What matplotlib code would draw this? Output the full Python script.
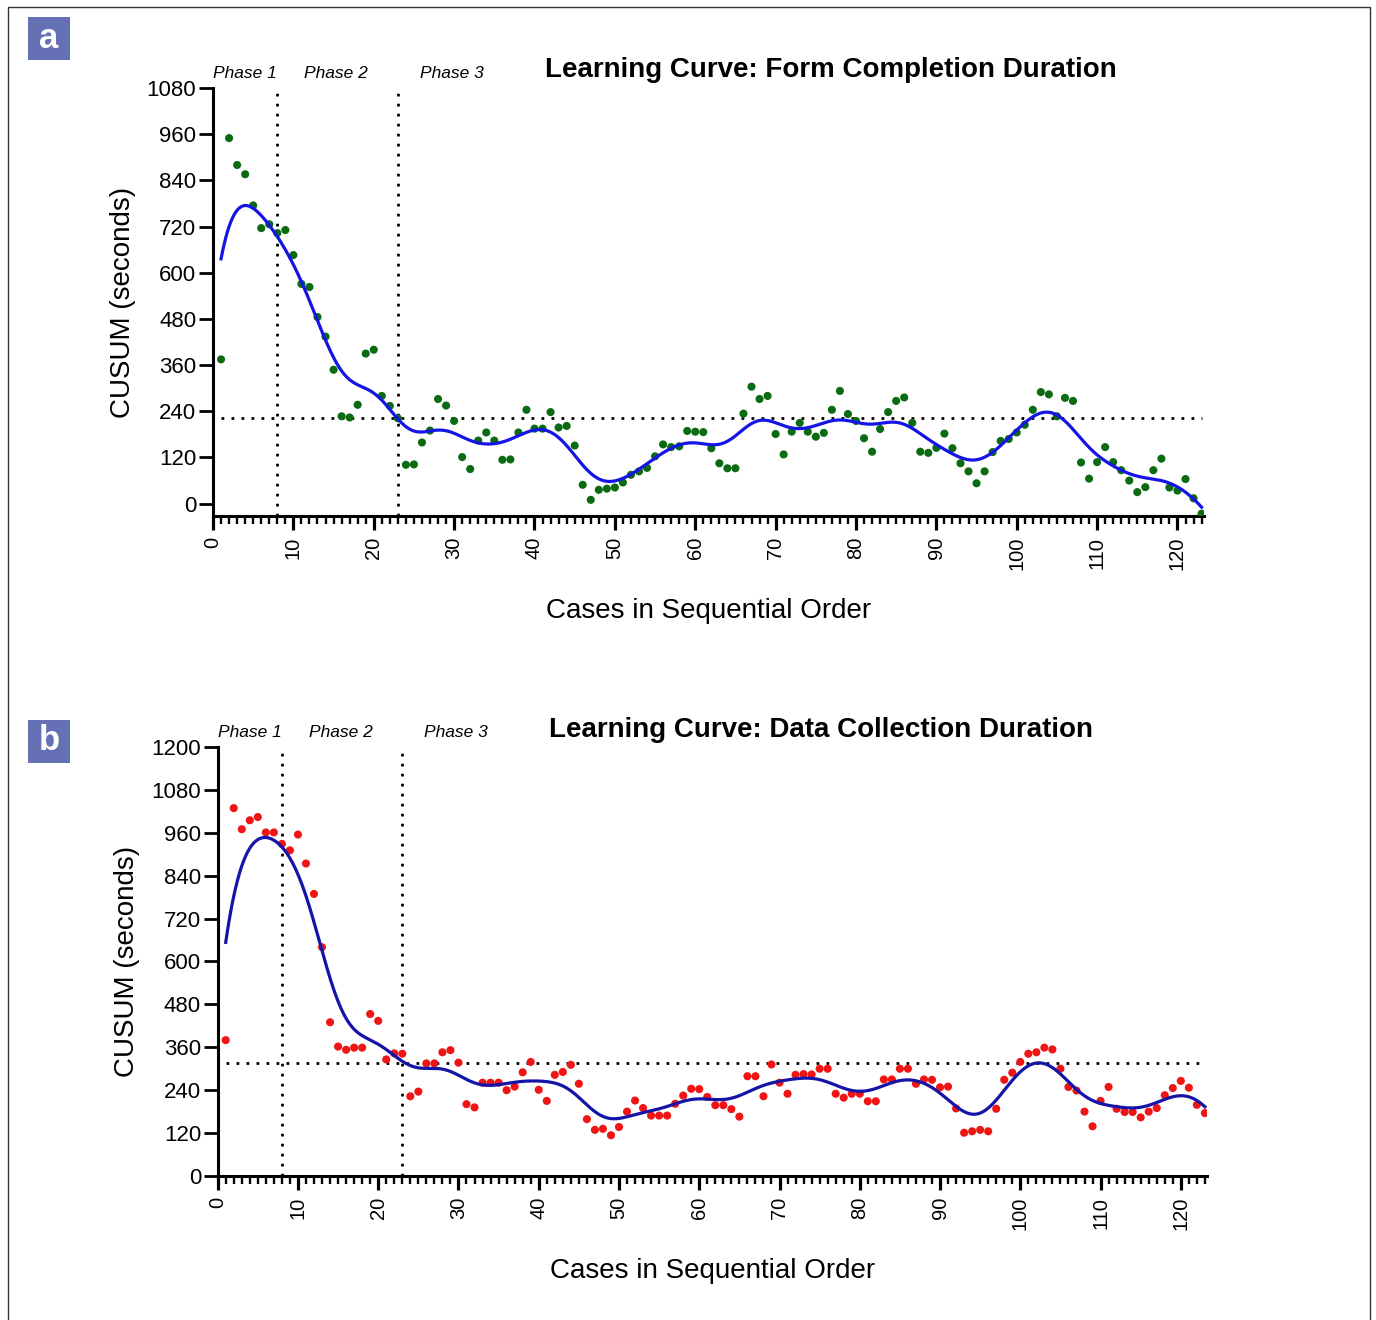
import numpy as np
import matplotlib.pyplot as plt
from matplotlib.patches import Rectangle
from matplotlib.transforms import blended_transform_factory

plt.rcParams['font.family'] = ['Liberation Sans', 'DejaVu Sans']

# CUSUM values per case
cases = np.arange(1, 124)

form_cusum = [
    375, 950, 880, 856, 775, 716, 726, 703, 711, 646,
    571, 563, 485, 434, 348, 227, 224, 257, 390, 400,
    280, 254, 222, 101, 102, 159, 190, 272, 255, 215,
    121, 90, 164, 185, 164, 114, 115, 185, 244, 195,
    195, 238, 198, 202, 151, 49, 10, 36, 39, 42,
    55, 75, 84, 93, 123, 154, 147, 149, 189, 187,
    186, 144, 105, 92, 92, 234, 304, 272, 280, 181,
    128, 187, 210, 187, 174, 184, 244, 293, 233, 215,
    170, 135, 194, 238, 267, 276, 210, 135, 132, 145,
    182, 144, 105, 84, 53, 84, 134, 163, 168, 185,
    205, 244, 290, 284, 227, 275, 267, 107, 65, 108,
    147, 108, 87, 60, 30, 43, 87, 117, 42, 34,
    64, 14, -26,
]

data_cusum = [
    380, 1029, 970, 995, 1004, 961, 961, 929, 911, 955,
    874, 789, 640, 430, 362, 353, 359, 359, 453, 434,
    326, 343, 342, 223, 236, 315, 315, 346, 352, 317,
    201, 192, 261, 261, 261, 240, 250, 290, 319, 241,
    210, 283, 291, 311, 258, 159, 129, 132, 114, 137,
    180, 211, 190, 169, 169, 169, 202, 225, 244, 243,
    221, 198, 198, 187, 166, 279, 279, 223, 312, 261,
    230, 283, 285, 284, 300, 300, 230, 219, 230, 230,
    209, 209, 270, 270, 300, 300, 258, 270, 269, 248,
    250, 189, 121, 125, 129, 125, 188, 269, 289, 319,
    342, 346, 359, 354, 300, 249, 239, 180, 139, 210,
    249, 188, 179, 179, 164, 180, 190, 226, 246, 266,
    247, 199, 176,
]

form_threshold = 222
data_threshold = 315
phase_cuts = [8, 23]
phase_names = ['Phase 1', 'Phase 2', 'Phase 3']
phase_centers = [4, 15.3, 29.7]

DOTTED = (0, (1, 2.6))


def local_linear(x, y, grid, h):
    x = np.asarray(x, float)
    y = np.asarray(y, float)
    out = []
    for g in grid:
        w = np.exp(-0.5 * ((x - g) / h) ** 2)
        xm = np.sum(w * x) / w.sum()
        ym = np.sum(w * y) / w.sum()
        b = np.sum(w * (x - xm) * (y - ym)) / np.sum(w * (x - xm) ** 2)
        out.append(ym + b * (g - xm))
    return np.array(out)


def draw_panel(ax, y, threshold, ylim, ymax_tick, title, title_xy, dot_color, line_color):
    grid = np.linspace(cases[0], cases[-1], 600)
    fit = local_linear(cases, y, grid, 2.6)

    ax.plot([cases[0], cases[-1]], [threshold, threshold], color='black',
            lw=2, ls=DOTTED, zorder=1)
    for c in phase_cuts:
        ax.axvline(c, color='black', lw=2, ls=DOTTED, zorder=1)
    ax.scatter(cases, y, s=34, color=dot_color, edgecolors='none', zorder=3)
    ax.plot(grid, fit, color=line_color, lw=2.3, zorder=4)

    ax.set_xlim(0, 123.3)
    ax.set_ylim(*ylim)
    ax.set_yticks(np.arange(0, ymax_tick + 1, 120))
    ax.set_xticks(np.arange(0, 121, 10))
    ax.set_xticks(np.arange(0, 124, 1), minor=True)
    ax.spines['top'].set_visible(False)
    ax.spines['right'].set_visible(False)
    for s in ['left', 'bottom']:
        ax.spines[s].set_linewidth(2.2)
    ax.tick_params(axis='y', length=10, width=2, labelsize=16, pad=2)
    ax.tick_params(axis='x', which='major', length=10, width=2.3, labelsize=14.5,
                   pad=5, labelrotation=90)
    ax.tick_params(axis='x', which='minor', length=5.5, width=1.7)
    ax.set_ylabel('CUSUM (seconds)', fontsize=20, labelpad=8)
    ax.set_xlabel('Cases in Sequential Order', fontsize=20, labelpad=20)

    tr = blended_transform_factory(ax.transData, ax.transAxes)
    for name, xc in zip(phase_names, phase_centers):
        ax.text(xc, 1.033, name, transform=tr, ha='center', va='center',
                fontsize=12.5, style='italic')
    fig.text(title_xy[0], title_xy[1], title, ha='center', va='center',
             fontsize=20, fontweight='bold')


fig = plt.figure(figsize=(13.76, 13.2), dpi=100)

ax_a = fig.add_axes([0.1548, 0.6091, 0.7202, 0.3242])
draw_panel(ax_a, form_cusum, form_threshold, (-32, 1080), 1080,
           'Learning Curve: Form Completion Duration', (0.604, 0.947),
           '#0b6b12', '#1414e6')

ax_b = fig.add_axes([0.1582, 0.1091, 0.7192, 0.3250])
draw_panel(ax_b, data_cusum, data_threshold, (0, 1200), 1200,
           'Learning Curve: Data Collection Duration', (0.597, 0.447),
           '#f01414', '#1414a8')

# outer frame and panel letters
fig.patches.append(Rectangle((8 / 1376, -0.01), 1362 / 1376, 1 - 7 / 1320 + 0.01,
                             transform=fig.transFigure, fill=False,
                             edgecolor='#333333', lw=1.0))
for letter, top in [('a', 17), ('b', 720)]:
    fig.patches.append(Rectangle((28 / 1376, 1 - (top + 43) / 1320), 42 / 1376, 43 / 1320,
                                 transform=fig.transFigure, facecolor='#6670b5',
                                 edgecolor='none'))
    fig.text(49 / 1376, 1 - (top + 21) / 1320, letter, color='white', fontsize=25,
             fontweight='bold', ha='center', va='center',
             family=['Liberation Sans Narrow', 'Liberation Sans'])

fig.savefig('out.png', dpi=100)
